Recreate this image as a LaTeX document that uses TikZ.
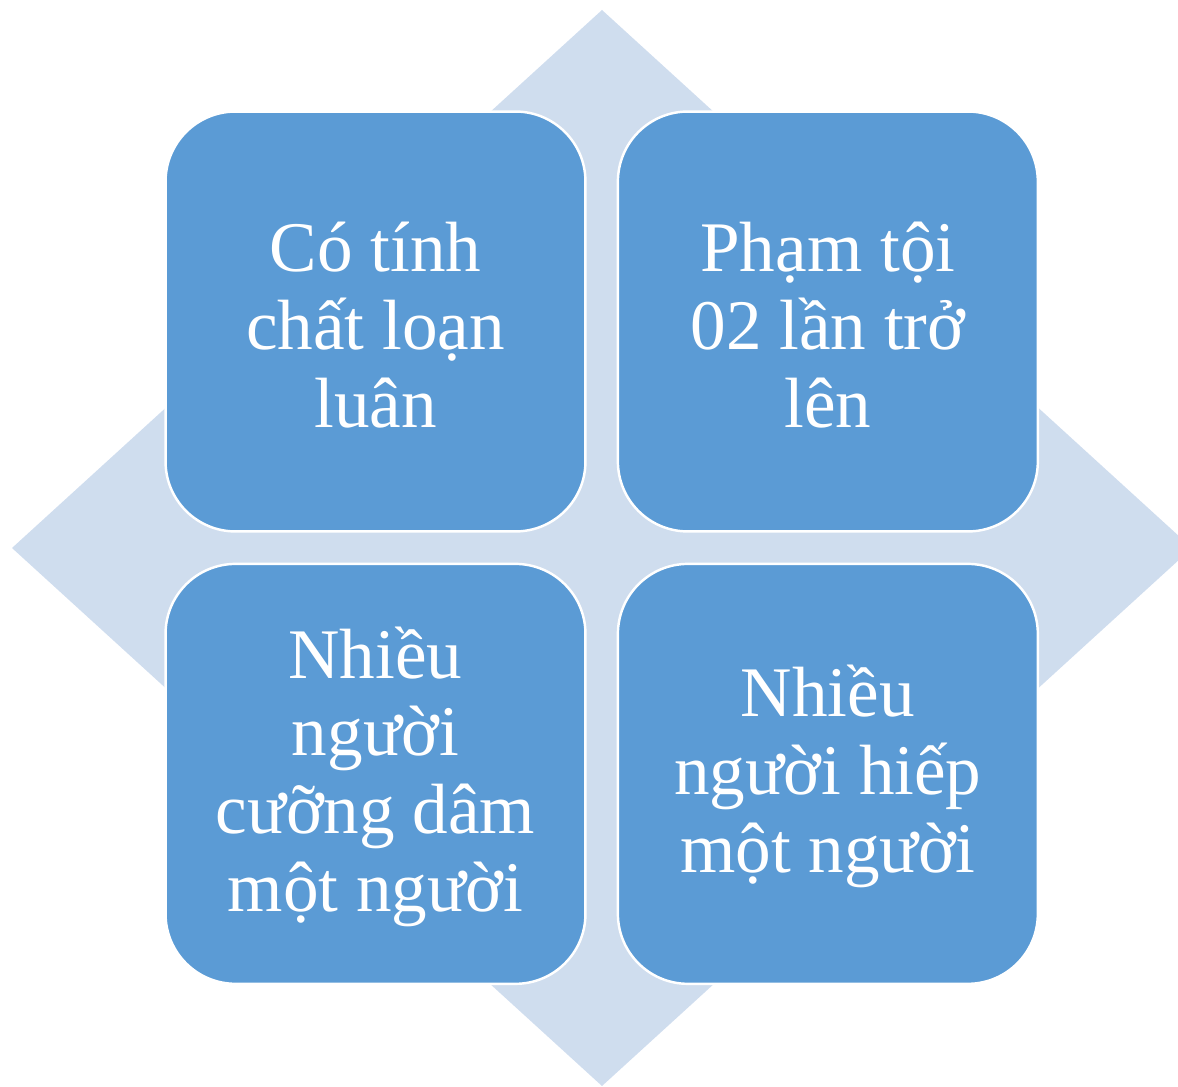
\documentclass[tikz,border=0pt]{standalone}
\usepackage{fontspec}
\setmainfont{Liberation Serif}
\usetikzlibrary{positioning}
\definecolor{quadblue}{HTML}{5B9BD5}
\definecolor{diamondblue}{HTML}{CFDDEE}
% same top height for every first line
\newcommand{\topline}[1]{\raisebox{0pt}[0.8em][\depth]{#1}}
\tikzset{
  quad/.style={draw=white, line width=1.4pt, fill=quadblue, rounded corners=1.4cm,
    minimum width=8.4cm, minimum height=8.4cm, inner sep=0pt, align=center,
    text=white, font=\fontsize{40.5}{44.2}\selectfont}
}
\begin{document}
\begin{tikzpicture}[x=0.02cm,y=-0.02cm]
      \useasboundingbox (0,0) rectangle (1178,1087);
      \begin{scope}
        \clip (0,0) rectangle (1178,1087);
        \fill[diamondblue] (602,10) -- (1192,548) -- (602,1086) -- (12,548) -- cycle;
      \end{scope}

      \node[quad] (tl) at (375.5,321.5) {\topline{Có tính}\\chất loạn\\luân};
      \node[quad, right=0.6cm of tl] (tr) {\topline{Phạm tội}\\02 lần trở\\lên};
      \node[quad, below=0.6cm of tl] (bl) {\topline{Nhiều}\\người\\cưỡng dâm\\một người};
      \node[quad, right=0.6cm of bl] (br) {\topline{Nhiều}\\người hiếp\\một người};
    \end{tikzpicture}
\end{document}
